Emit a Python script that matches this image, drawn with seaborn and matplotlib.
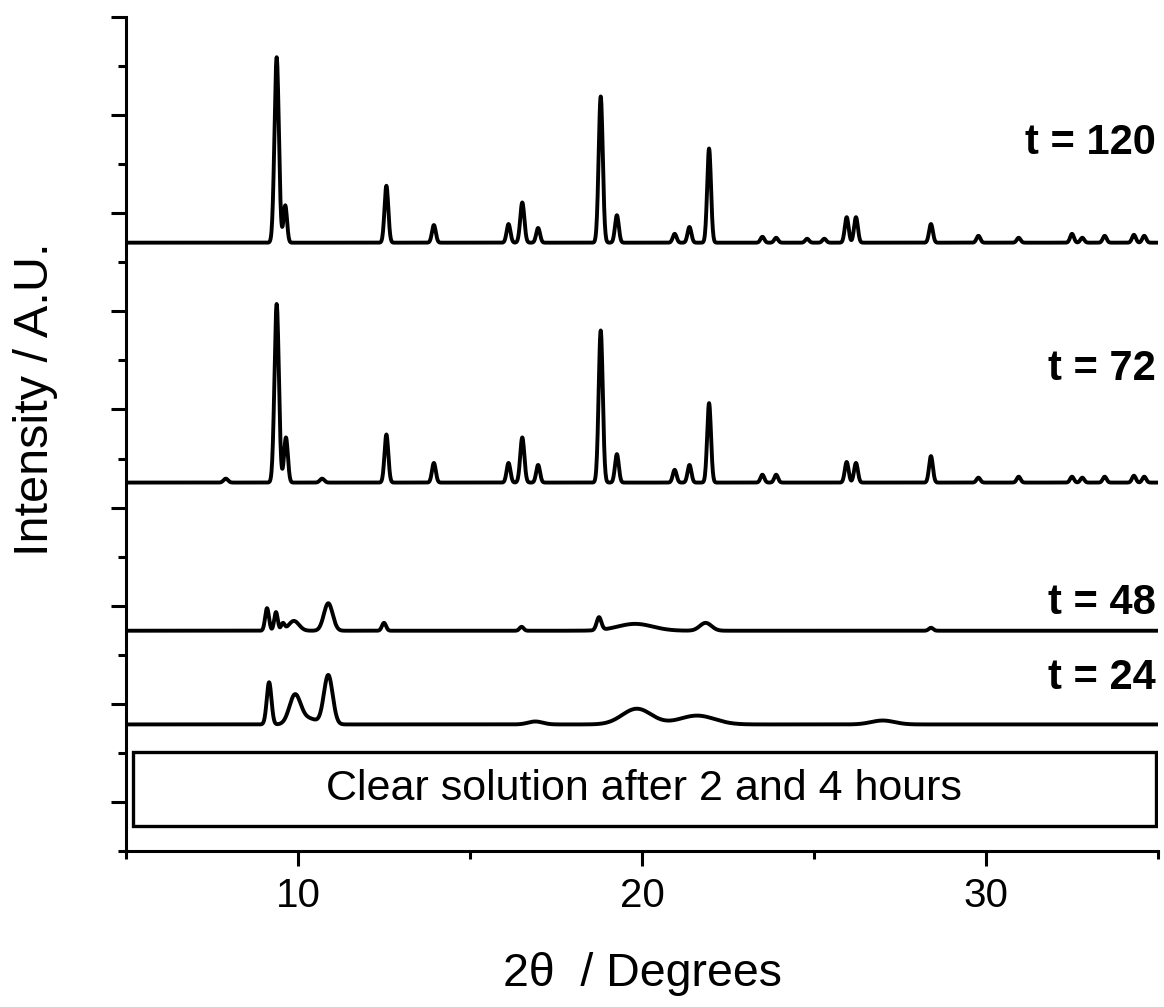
import numpy as np
import pandas as pd
import matplotlib
matplotlib.use("Agg")
import matplotlib.pyplot as plt
from matplotlib.patches import Rectangle
from matplotlib.ticker import MultipleLocator, FixedLocator, NullFormatter
import seaborn as sns

# ---------------- data ----------------
labels = ["t = 24", "t = 48", "t = 72", "t = 120"]
label_y = [1.265, 2.03, 4.41, 6.72]
baselines = [0.79, 1.745, 3.255, 5.70]

# peak positions (deg 2theta), heights (axis units above baseline), FWHM (deg)
pos_24 = [9.16, 9.91, 10.88, 10.3, 16.9, 19.85, 21.6, 27.0]
hgt_24 = [0.43, 0.29, 0.50, 0.06, 0.03, 0.16, 0.09, 0.04]
wid_24 = [0.16, 0.38, 0.30, 0.60, 0.50, 1.00, 1.20, 0.80]

pos_48 = [9.10, 9.36, 9.56, 9.88, 10.88, 12.50, 16.50, 18.75, 19.80, 21.85, 28.40]
hgt_48 = [0.23, 0.19, 0.07, 0.10, 0.28, 0.08, 0.04, 0.13, 0.07, 0.08, 0.03]
wid_48 = [0.13, 0.12, 0.12, 0.35, 0.30, 0.14, 0.14, 0.16, 1.20, 0.40, 0.15]

pos_72 = [7.90, 9.38, 9.65, 10.70, 12.57, 13.95, 16.12, 16.52, 16.98, 18.80, 19.27,
          20.95, 21.38, 21.95, 23.50, 23.90, 25.95, 26.22, 28.40, 29.78, 30.95,
          32.50, 32.80, 33.45, 34.30, 34.60]
hgt_72 = [0.04, 1.82, 0.46, 0.04, 0.49, 0.20, 0.20, 0.46, 0.18, 1.55, 0.29,
          0.13, 0.18, 0.81, 0.08, 0.08, 0.21, 0.20, 0.27, 0.05, 0.06,
          0.06, 0.05, 0.06, 0.07, 0.06]
wid_72 = [0.15, 0.15, 0.13, 0.15, 0.13, 0.13, 0.13, 0.14, 0.13, 0.14, 0.13,
          0.13, 0.13, 0.13, 0.13, 0.13, 0.13, 0.13, 0.13, 0.13, 0.13,
          0.13, 0.13, 0.13, 0.13, 0.13]

pos_120 = [9.38, 9.63, 12.57, 13.95, 16.12, 16.52, 16.98, 18.80, 19.27, 20.95,
           21.38, 21.95, 23.50, 23.90, 24.80, 25.30, 25.95, 26.22, 28.40, 29.78,
           30.95, 32.50, 32.80, 33.45, 34.30, 34.60]
hgt_120 = [1.89, 0.38, 0.58, 0.18, 0.19, 0.41, 0.15, 1.49, 0.28, 0.09,
           0.16, 0.96, 0.06, 0.05, 0.04, 0.04, 0.26, 0.26, 0.19, 0.07,
           0.05, 0.09, 0.05, 0.07, 0.08, 0.07]
wid_120 = [0.15, 0.12, 0.13, 0.13, 0.13, 0.14, 0.13, 0.14, 0.13, 0.13,
           0.13, 0.13, 0.13, 0.13, 0.13, 0.13, 0.13, 0.13, 0.13, 0.13,
           0.13, 0.13, 0.13, 0.13, 0.13, 0.13]

box_text = "Clear solution after 2 and 4 hours"
x_ticks = [10, 20, 30]
x_label = "2\u03b8  / Degrees"
y_label = "Intensity / A.U."

peaks = [(pos_24, hgt_24, wid_24), (pos_48, hgt_48, wid_48),
         (pos_72, hgt_72, wid_72), (pos_120, hgt_120, wid_120)]

# ---------------- build profiles from the peak tables ----------------
grid = np.linspace(5, 35, 3001)
frames = []
for lab, base, (p, h, w) in zip(labels, baselines, peaks):
    y = np.full_like(grid, base)
    for pp, hh, ww in zip(p, h, w):
        s = ww / 2.3548
        y += hh * np.exp(-0.5 * ((grid - pp) / s) ** 2)
    frames.append(pd.DataFrame({"two_theta": grid, "intensity": y, "sample": lab}))
df = pd.concat(frames, ignore_index=True)

# ---------------- plotting ----------------
sns.set_style("ticks")
plt.rcParams["font.family"] = ["Liberation Sans", "DejaVu Sans"]
plt.rcParams.update({"text.color": "black", "axes.labelcolor": "black",
                     "xtick.color": "black", "ytick.color": "black",
                     "axes.edgecolor": "black"})

fig = plt.figure(figsize=(11.64, 10.07), dpi=100)
ax = fig.add_axes([126 / 1164, 1 - 851 / 1007, (1158 - 126) / 1164, (851 - 17) / 1007])

for lab in labels:
    sub = df[df["sample"] == lab]
    sns.lineplot(data=sub, x="two_theta", y="intensity", ax=ax, color="black",
                 linewidth=2.8, estimator=None, sort=False, legend=False)

for lab, ly in zip(labels, label_y):
    ax.text(34.93, ly, lab, ha="right", va="center", fontsize=30, fontweight="bold")

ax.add_patch(Rectangle((5.2, -0.245), 29.75, 0.755, fill=False, edgecolor="black",
                       linewidth=2.4, zorder=3))
ax.text(20.05, 0.133, box_text, ha="center", va="center", fontsize=31)

ax.set_xlim(5, 35)
ax.set_ylim(-0.5, 8.0)
ax.xaxis.set_major_locator(FixedLocator(x_ticks))
ax.xaxis.set_minor_locator(FixedLocator([5, 15, 25, 35]))
ax.yaxis.set_major_locator(MultipleLocator(1))
ax.yaxis.set_minor_locator(MultipleLocator(0.5))
ax.yaxis.set_major_formatter(NullFormatter())

sns.despine(ax=ax)
for sp in ["left", "bottom"]:
    ax.spines[sp].set_linewidth(2.2)
ax.tick_params(axis="both", which="major", length=11, width=2.2, labelsize=29,
               direction="out", pad=8)
ax.tick_params(axis="both", which="minor", length=5.5, width=2.2, direction="out")

ax.set_xlabel(x_label, fontsize=33.5, labelpad=26)
ax.set_ylabel(y_label, fontsize=35)
ax.yaxis.set_label_coords(-0.066, 0.542)

fig.savefig("out.png", dpi=100)
